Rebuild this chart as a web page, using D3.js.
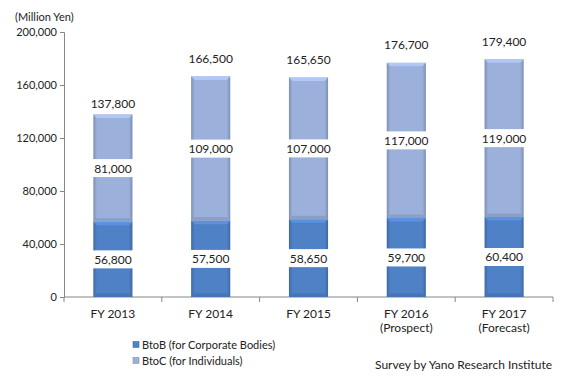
<!DOCTYPE html>
<html><head><meta charset="utf-8">
<script src="https://cdn.jsdelivr.net/npm/d3@7"></script>
<style>
html,body{margin:0;padding:0;background:#fff;}
svg{display:block;font-family:Lato,"Noto Sans",sans-serif;}
</style></head>
<body><svg id="c" width="568" height="379"></svg>
<script>
const categories = ["FY 2013","FY 2014","FY 2015","FY 2016","FY 2017"];
const subLabels = ["","","","(Prospect)","(Forecast)"];
const btob = [56800,57500,58650,59700,60400];
const btoc = [81000,109000,107000,117000,119000];
const totals = [137800,166500,165650,176700,179400];
const yTicks = [0,40000,80000,120000,160000,200000];
const seriesNames = ["BtoB (for Corporate Bodies)","BtoC (for Individuals)"];
const colors = ["#4f81c7","#9bb0da"];

const svg = d3.select("#c");
const x = d3.scaleBand().domain(categories).range([64,553]).paddingInner(0.6).paddingOuter(0.3);
const y = d3.scaleLinear().domain([0,200000]).range([297,32]);
const fmt = d3.format(",");

const defs = svg.append("defs");
colors.forEach((c,i)=>{
  const g = defs.append("linearGradient").attr("id","g"+i).attr("x1","0").attr("x2","1").attr("y1","0").attr("y2","0");
  const d = d3.color(c).darker(0.6), l = d3.color(c);
  g.append("stop").attr("offset","0%").attr("stop-color",d);
  g.append("stop").attr("offset","9%").attr("stop-color",l);
  g.append("stop").attr("offset","91%").attr("stop-color",l);
  g.append("stop").attr("offset","100%").attr("stop-color",d);
});

const yAxis = d3.axisLeft(y).tickValues(yTicks).tickSize(4).tickFormat(fmt);
const ya = svg.append("g").attr("transform","translate(64,0)").call(yAxis);
ya.select(".domain").attr("stroke","#868686");
ya.selectAll(".tick line").attr("stroke","#868686");
ya.selectAll(".tick text").attr("font-size",11).attr("font-family","Lato").attr("fill","#222").attr("x",-7);

const xa = svg.append("g").attr("transform","translate(0,297)");
xa.append("line").attr("x1",64).attr("x2",553).attr("stroke","#868686");
d3.range(categories.length+1).forEach(i=>{
  const xx = 64 + i*(489/categories.length);
  xa.append("line").attr("x1",xx).attr("x2",xx).attr("y1",0).attr("y2",5).attr("stroke","#868686");
});
categories.forEach((c,i)=>{
  const cx = x(c)+x.bandwidth()/2;
  svg.append("text").attr("x",cx).attr("y",318).attr("text-anchor","middle").attr("font-size",12).attr("fill","#222").text(c);
  if(subLabels[i]) svg.append("text").attr("x",cx).attr("y",332).attr("text-anchor","middle").attr("font-size",12).attr("fill","#222").text(subLabels[i]);
});

svg.append("text").attr("x",15).attr("y",21).attr("font-size",11).attr("fill","#222").text("(Million Yen)");

function bevelBar(g, x0, w, y0, y1, ci){
  const h = y1-y0;
  g.append("rect").attr("x",x0).attr("y",y0).attr("width",w).attr("height",h).attr("fill",`url(#g${ci})`);
  const b = 3.5;
  const c = d3.color(colors[ci]);
  g.append("polygon").attr("points",`${x0},${y0} ${x0+w},${y0} ${x0+w-b},${y0+b} ${x0+b},${y0+b}`).attr("fill",c.brighter(0.35));
  g.append("polygon").attr("points",`${x0},${y1} ${x0+w},${y1} ${x0+w-b},${y1-b} ${x0+b},${y1-b}`).attr("fill",c.darker(0.3));
}
const bars = svg.append("g");
categories.forEach((c,i)=>{
  const bx = x(c), bw = x.bandwidth();
  bevelBar(bars, bx, bw, y(btob[i]), y(0), 0);
  bevelBar(bars, bx, bw, y(btob[i]+btoc[i]), y(btob[i]), 1);
});

function boxLabel(cx, cy, txt){
  const g = svg.append("g");
  const r = g.append("rect").attr("fill","#fff");
  const t = g.append("text").attr("x",cx).attr("y",cy+4.5).attr("text-anchor","middle").attr("font-size",12).attr("fill","#222").text(txt);
  const bb = t.node().getBBox();
  r.attr("x",bb.x-2).attr("y",cy-9).attr("width",bb.width+4).attr("height",18);
}
categories.forEach((c,i)=>{
  const cx = x(c)+x.bandwidth()/2;
  boxLabel(cx, (y(0)+y(btob[i]))/2, fmt(btob[i]));
  boxLabel(cx, (y(btob[i])+y(btob[i]+btoc[i]))/2, fmt(btoc[i]));
  const off = i===0 ? 11 : 18;
  svg.append("text").attr("x",cx).attr("y",y(totals[i])-off+4.5).attr("text-anchor","middle").attr("font-size",12).attr("fill","#222").text(fmt(totals[i]));
});

seriesNames.forEach((n,i)=>{
  const ly = 345 + i*16;
  const c = d3.color(colors[i]);
  svg.append("rect").attr("x",133).attr("y",ly-3.5).attr("width",6).attr("height",6).attr("fill",c).attr("stroke",c.darker(0.5)).attr("stroke-width",0.6);
  svg.append("text").attr("x",142).attr("y",ly+4).attr("font-size",11).attr("fill","#222").text(n);
});
svg.append("text").attr("x",375).attr("y",369).attr("font-size",12).attr("fill","#222").text("Survey by Yano Research Institute");
</script></body></html>
